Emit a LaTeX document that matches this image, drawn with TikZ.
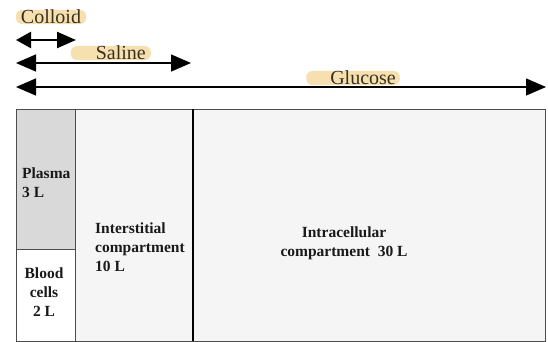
\documentclass[tikz,border=0pt]{standalone}
\usepackage{fontspec}
\setmainfont{Liberation Serif}
\usetikzlibrary{arrows.meta}
\definecolor{hl}{HTML}{F6E0B0}
\definecolor{txt}{HTML}{3A3020}
\begin{document}
\begin{tikzpicture}[x=1pt,y=-1pt,
  lbl/.style={fill=hl,rounded corners=6pt,inner ysep=0pt,inner xsep=3pt,text=txt,font=\fontsize{20}{21}\selectfont},
  dbl/.style={{Triangle[length=20pt,width=17pt]}-{Triangle[length=20pt,width=17pt]},line width=1.3pt},
  comp/.style={draw=black!70,line width=0.8pt},
  ctext/.style={font=\bfseries\fontsize{15.5}{19}\selectfont,text=black!90,align=left,inner sep=0pt}]
\useasboundingbox (0,0) rectangle (548,342);
% arrows ends
\coordinate (cl) at (16,40); \coordinate (cr) at (76,40);
\coordinate (sl) at (16,63); \coordinate (sr) at (191,63);
\coordinate (gl) at (16,87); \coordinate (gr) at (546,87);
\draw[line width=2.4pt,{Triangle[length=15pt,width=16pt]}-{Triangle[length=19pt,width=16pt]}] (cl) -- (cr);
\draw[dbl] (sl) -- (sr);
\draw[dbl] (gl) -- (gr);
\node[lbl,inner xsep=5pt] (colloid) at (51,17) {Colloid};
\node[lbl,inner xsep=5pt,anchor=east] (saline) at (151,53) {\phantom{Sa}Saline};
\node[lbl,inner xsep=4pt,anchor=east] (glucose) at (400,78) {\phantom{Gl}Glucose};
% compartments
\fill[black!4] (193,109) rectangle (545,341);
\fill[black!4] (75,109) rectangle (193,341);
\fill[black!15] (16,109) rectangle (75,249);
\fill[white] (16,249) rectangle (75,341);
\draw[comp] (16,109) rectangle (545,341);
\draw[comp] (75,109) -- (75,341);
\draw[comp] (16,249) -- (75,249);
\draw[black,line width=1.2pt] (193,109) -- (193,341);
\node[ctext,anchor=west] (plasma) at (22,183) {Plasma\\3 L};
\node[ctext,align=center] (blood) at (44,292) {Blood\\cells\\2 L};
\node[ctext,anchor=west] (inter) at (95,247) {Interstitial\\compartment\\10 L};
\node[ctext,align=center] (intra) at (344,243) {Intracellular\\compartment\enspace 30 L};
\end{tikzpicture}
\end{document}
